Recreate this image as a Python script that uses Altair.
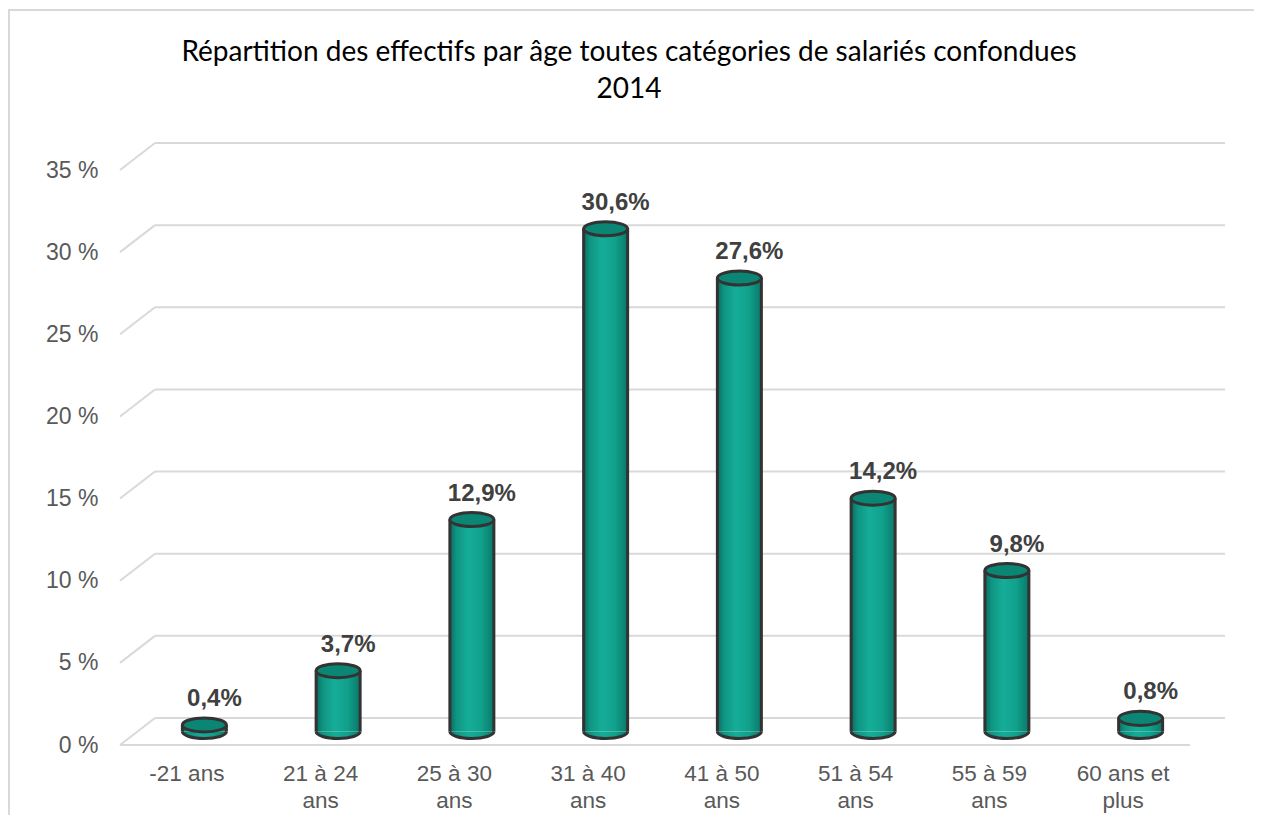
import altair as alt
import pandas as pd

# ---- data ----
categories = ["-21 ans", "21 à 24 ans", "25 à 30 ans", "31 à 40 ans",
              "41 à 50 ans", "51 à 54 ans", "55 à 59 ans", "60 ans et plus"]
values = [0.4, 3.7, 12.9, 30.6, 27.6, 14.2, 9.8, 0.8]
value_labels = ["0,4%", "3,7%", "12,9%", "30,6%", "27,6%", "14,2%", "9,8%", "0,8%"]
grid_levels = [0, 5, 10, 15, 20, 25, 30, 35]
title_lines = ["Répartition des effectifs par âge toutes catégories de salariés confondues", "2014"]

df = pd.DataFrame({"cat": categories, "val": values, "lab": value_labels,
                   "zero": [0] * len(values)})
grid = pd.DataFrame({"lvl": grid_levels})
floor = pd.DataFrame({"lvl": [0]})

# ---- style ----
W, H = 1070, 575
DEPTH_X, DEPTH_Y = 35, -27        # back wall offset
MID_X, MID_Y = 17.5, -13.5        # cylinders sit mid-depth
CYL_W = 44
GRID_COL = "#d9d9d9"
OUTLINE = "#333333"

xs = alt.Scale(domain=categories, paddingInner=0, paddingOuter=0)
ys = alt.Scale(domain=[0, 35], nice=False, zero=True)

label_expr = ("length(datum.label) <= 7 ? datum.label : "
              "[slice(datum.label, 0, lastindexof(datum.label, ' ')), "
              "slice(datum.label, lastindexof(datum.label, ' ') + 1)]")

x_axis = alt.Axis(title=None, labelAngle=0, labelPadding=17, domain=False,
                  ticks=False, grid=False, labelFontSize=22.5, labelColor="#595959",
                  labelFont="Liberation Sans", labelLineHeight=27,
                  labelBaseline="top", labelExpr=label_expr)
y_axis = alt.Axis(title=None, values=grid_levels, grid=False, domain=False,
                  ticks=False, labelPadding=22, labelFontSize=23,
                  labelColor="#595959", labelFont="Liberation Sans",
                  labelExpr="datum.value + ' %'")

X = lambda: alt.X("cat:N", scale=xs, sort=categories, axis=x_axis)
Yv = lambda f: alt.Y(f, scale=ys, axis=y_axis)

side_grad = alt.Gradient(
    gradient="linear", x1=0, x2=1, y1=0, y2=0,
    stops=[alt.GradientStop(color="#0a6b5f", offset=0),
           alt.GradientStop(color="#0f9582", offset=0.15),
           alt.GradientStop(color="#15ad98", offset=0.42),
           alt.GradientStop(color="#10a08b", offset=0.72),
           alt.GradientStop(color="#0a7869", offset=1)])

ELLIPSE = "M -1 0 A 1 0.32 0 1 0 1 0 A 1 0.32 0 1 0 -1 0 Z"
HALF_FILL = "M -1 0 A 1 0.32 0 0 0 1 0 Z"
HALF_ARC = "M -1 0 A 1 0.32 0 0 0 1 0"

# frame around the whole figure
frame = alt.Chart(floor).mark_rect(fillOpacity=0, stroke=GRID_COL, strokeWidth=2).encode(
    x=alt.value(-111), x2=alt.value(1300), y=alt.value(-160), y2=alt.value(800))

back_lines = alt.Chart(grid).mark_rule(color=GRID_COL, strokeWidth=2, yOffset=DEPTH_Y).encode(
    y=Yv("lvl:Q"), x=alt.value(DEPTH_X), x2=alt.value(W + DEPTH_X))

diag_lines = alt.Chart(grid).mark_rule(color=GRID_COL, strokeWidth=2, y2Offset=DEPTH_Y).encode(
    y=Yv("lvl:Q"), y2="lvl:Q", x=alt.value(0), x2=alt.value(DEPTH_X))

front_floor = alt.Chart(floor).mark_rule(color=GRID_COL, strokeWidth=2).encode(
    y=Yv("lvl:Q"), x=alt.value(0), x2=alt.value(W))

base = alt.Chart(df)

bars = base.mark_bar(width=CYL_W, fill=side_grad, xOffset=MID_X,
                     yOffset=MID_Y, y2Offset=MID_Y).encode(
    x=X(), y=Yv("val:Q"), y2="zero:Q")

left_edge = base.mark_rule(color=OUTLINE, strokeWidth=3, xOffset=MID_X - CYL_W / 2,
                           yOffset=MID_Y, y2Offset=MID_Y).encode(x=X(), y=Yv("val:Q"), y2="zero:Q")
right_edge = base.mark_rule(color=OUTLINE, strokeWidth=3, xOffset=MID_X + CYL_W / 2,
                            yOffset=MID_Y, y2Offset=MID_Y).encode(x=X(), y=Yv("val:Q"), y2="zero:Q")

bottom_fill = base.mark_point(shape=HALF_FILL, size=CYL_W ** 2, filled=True, fill=side_grad,
                              opacity=1, strokeWidth=0, xOffset=MID_X, yOffset=MID_Y).encode(
    x=X(), y=Yv("zero:Q"))
bottom_arc = base.mark_point(shape=HALF_ARC, size=CYL_W ** 2, filled=False, stroke=OUTLINE,
                             opacity=1, strokeWidth=3, xOffset=MID_X, yOffset=MID_Y).encode(
    x=X(), y=Yv("zero:Q"))

top_cap = base.mark_point(shape=ELLIPSE, size=CYL_W ** 2, filled=True, fill="#0b8574",
                          stroke=OUTLINE, strokeWidth=3, opacity=1,
                          xOffset=MID_X, yOffset=MID_Y).encode(x=X(), y=Yv("val:Q"))

texts = base.mark_text(font="Liberation Sans", fontSize=24, fontWeight="bold",
                       color="#404040", xOffset=MID_X + 10, yOffset=MID_Y - 19,
                       baseline="alphabetic").encode(
    x=X(), y=Yv("val:Q"), text="lab:N")

chart = alt.layer(
    frame, back_lines, diag_lines, front_floor,
    bars, bottom_fill, bottom_arc, left_edge, right_edge, top_cap, texts
).properties(
    width=W, height=H,
    background="white",
    title=alt.Title(title_lines, font="Lato", fontSize=28, fontWeight="normal",
                    color="#000000", anchor="middle", frame="group", dx=-26,
                    lineHeight=37, offset=-95),
    autosize=alt.AutoSizeParams(type="none"),
    padding={"left": 112, "top": 162, "right": 64, "bottom": 70},
).configure_view(strokeWidth=0, stroke="transparent")

chart.save("out.html", embed_options={"renderer": "svg", "actions": False})
